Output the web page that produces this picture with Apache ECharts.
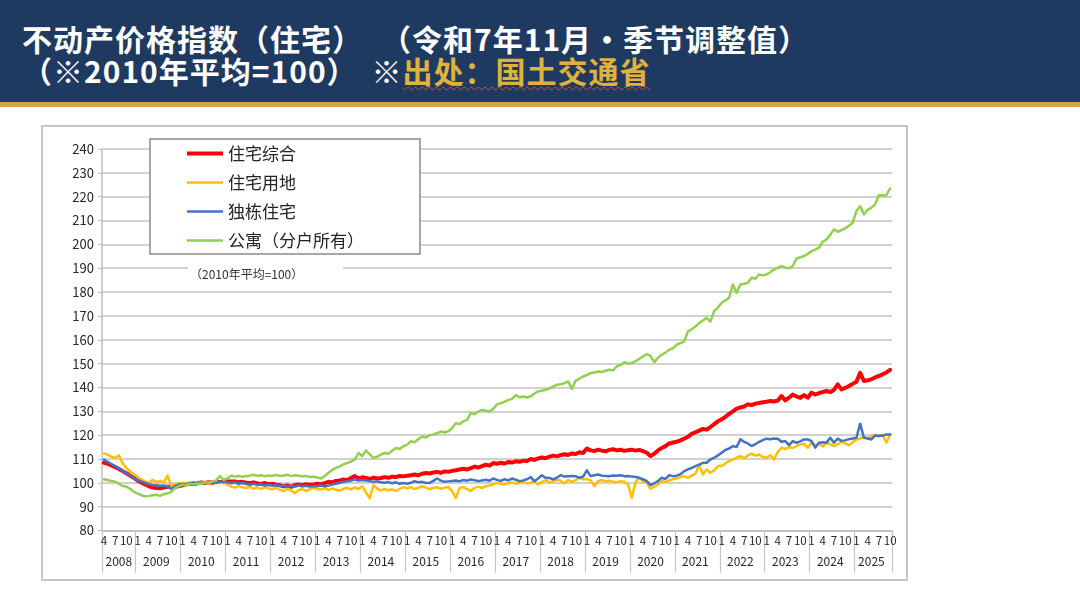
<!DOCTYPE html>
<html>
<head>
<meta charset="utf-8">
<script src="https://cdn.jsdelivr.net/npm/echarts@6.0.0/dist/echarts.min.js"></script>
<style>
  html, body { margin: 0; padding: 0; background: #fff; }
  body { width: 1080px; height: 601px; position: relative; overflow: hidden; font-family: "Noto Sans CJK SC", sans-serif; }
  .header { position: absolute; left: 0; top: 0; width: 1080px; height: 102px; background: #1f3a60; border-bottom: 5px solid #cba64b; }
  .title { position: absolute; left: 22px; color: #fff; font-weight: bold; font-size: 30px; line-height: 36px; letter-spacing: 1px; white-space: nowrap; }
  .t1 { top: 20px; }
  .t2 { top: 52px; }
  .gap1 { display: inline-block; width: 18px; }
  .gap2 { display: inline-block; width: 14px; }
  .src { color: #e0b13c; text-decoration: underline wavy #d8434d; text-decoration-thickness: 1px; text-underline-offset: 3px; }
  #chart { position: absolute; left: 41px; top: 125px; width: 867px; height: 456px; border: 2px solid #c6c6c6; box-sizing: border-box; }
</style>
</head>
<body>
<div class="header">
  <div class="title t1">不动产价格指数（住宅）<span class="gap1"></span>（令和7年11月•季节调整值）</div>
  <div class="title t2">（※2010年平均=100）<span class="gap2"></span>※<span class="src">出处：国土交通省</span></div>
</div>
<div id="chart"></div>
<script>
// monthly data, 2008-04 .. 2025-10 (one line per calendar year)
const startYear = 2008, startMonth = 4, endYear = 2025, endMonth = 10;
const monthLabels = [1, 4, 7, 10];
const seriesNames = ['住宅综合', '住宅用地', '独栋住宅', '公寓（分户所有）'];
const seriesColors = ['#ff0000', '#ffc000', '#4472c4', '#92d050'];

// 住宅综合
const totalIndex = [
  108.4, 108.0, 107.3, 106.6, 105.8, 104.9, 104.0, 103.0, 102.1,
  101.0, 100.1, 99.3, 98.6, 98.0, 97.8, 97.7, 98.0, 98.3, 98.4, 98.2, 98.6,
  99.0, 99.4, 99.6, 99.5, 99.8, 100.1, 99.9, 100.2, 100.0, 100.4, 100.3, 100.6,
  100.7, 100.5, 100.6, 100.2, 100.4, 100.0, 99.8, 100.2, 99.7, 99.5, 99.9, 99.4,
  99.6, 99.2, 99.0, 98.5, 98.9, 98.3, 99.0, 99.3, 98.9, 99.4, 99.2, 99.3,
  99.6, 99.4, 99.9, 100.4, 100.2, 100.8, 101.0, 101.4, 101.2, 102.0, 102.8, 101.9,
  102.3, 102.0, 101.6, 102.2, 101.8, 102.0, 102.4, 102.1, 102.6, 102.4, 102.9, 102.7,
  103.0, 103.2, 103.5, 103.2, 103.8, 104.1, 103.9, 104.3, 104.6, 104.2, 104.8, 104.6,
  105.0, 105.3, 105.6, 105.9, 105.6, 106.2, 106.8, 106.4, 107.0, 107.6, 107.2, 108.3,
  108.0, 108.4, 108.1, 108.7, 108.5, 109.0, 108.8, 109.3, 109.1, 110.0, 109.6, 110.2,
  110.6, 110.3, 111.0, 111.4, 111.1, 111.6, 112.0, 111.7, 112.3, 112.1, 112.8, 112.5,
  114.4, 113.6, 113.3, 113.9, 113.5, 113.2, 113.8, 114.1, 113.6, 113.9, 113.4, 113.7,
  113.9, 113.5, 113.8, 113.3, 112.6, 111.2, 112.2, 113.6, 114.6, 115.4, 116.5, 116.9,
  117.2, 117.8, 118.5, 119.3, 120.5, 121.2, 121.9, 122.6, 122.3, 123.4, 124.6, 125.8,
  126.6, 127.7, 128.9, 130.0, 131.1, 131.6, 132.0, 132.9, 132.6, 133.2, 133.5, 133.8,
  134.0, 134.3, 134.1, 134.5, 136.4, 134.6, 135.7, 137.0, 136.2, 135.6, 136.8, 135.7,
  137.8, 137.0, 137.6, 138.1, 138.5, 138.0, 139.0, 141.3, 139.2, 139.8, 140.6, 141.5,
  142.4, 146.1, 142.7, 143.0, 143.4, 144.2, 144.8, 145.5, 146.3, 147.4
];

// 住宅用地
const landIndex = [
  112.3, 111.8, 111.0, 110.4, 111.5, 108.2, 106.3, 104.8, 103.6,
  102.4, 101.4, 100.6, 100.0, 101.2, 100.4, 100.8, 100.2, 103.0, 98.6, 99.3, 99.8,
  99.6, 100.0, 99.7, 100.2, 99.8, 100.3, 100.0, 99.7, 100.4, 100.1, 99.8, 100.3,
  99.2, 98.4, 98.0, 98.6, 98.1, 97.8, 98.3, 97.6, 98.0, 97.4, 98.2, 97.6,
  97.3, 97.9, 97.0, 96.5, 97.6, 96.8, 95.6, 96.9, 97.4, 96.6, 97.3, 97.9,
  97.4, 97.2, 97.8, 97.0, 97.6, 97.1, 96.8, 97.5, 97.9, 97.2, 98.1, 97.4,
  98.6, 96.0, 93.5, 99.0, 97.6, 96.8, 97.4, 96.9, 97.2, 96.6, 97.5, 98.2,
  97.7, 98.2, 97.4, 97.9, 98.6, 98.0, 97.3, 97.8, 98.1, 97.5, 97.9, 98.3,
  96.5, 93.6, 97.8, 98.2, 97.4, 96.6, 97.9, 98.4, 97.8, 98.6, 98.9, 99.4,
  100.0, 99.5, 99.3, 99.8, 100.2, 99.6, 99.9, 100.3, 99.8, 100.0, 100.7, 99.3,
  100.4, 101.0, 100.2, 100.6, 101.4, 100.9, 99.7, 101.2, 100.4, 101.1, 102.1, 101.5,
  101.6, 101.0, 98.6, 100.7, 101.2, 100.6, 100.9, 100.5, 100.2, 100.7, 100.4, 99.3,
  93.7, 100.2, 102.1, 100.6, 100.0, 97.5, 98.4, 99.3, 100.7, 100.3, 101.0, 101.5,
  101.8, 102.4, 102.8, 102.1, 103.0, 103.8, 107.5, 103.5, 105.6, 104.2, 105.2, 107.0,
  107.0, 108.2, 109.1, 109.8, 110.6, 111.2, 110.3, 111.5, 112.2, 111.4, 111.9, 110.8,
  110.5, 111.6, 109.8, 113.0, 114.7, 114.2, 115.0, 114.6, 115.4, 116.1, 116.4, 114.7,
  116.8, 115.8, 116.4, 115.2, 116.8, 116.2, 115.4, 116.1, 117.2, 116.5, 115.8, 117.0,
  118.2, 118.6, 119.2, 118.8, 119.5, 119.9, 119.5, 120.1, 116.8, 120.3
];

// 独栋住宅
const houseIndex = [
  109.7, 108.8, 107.9, 107.0, 106.0, 105.0, 104.0, 103.0, 102.0,
  101.1, 100.6, 100.0, 99.4, 99.1, 99.0, 98.8, 98.9, 98.6, 97.4, 98.6, 99.2,
  99.5, 99.3, 99.8, 100.0, 99.6, 100.1, 99.8, 100.2, 100.4, 100.0, 100.5, 100.3,
  100.2, 99.8, 100.1, 99.6, 99.9, 99.5, 99.2, 99.6, 99.1, 99.4, 98.9, 99.2,
  98.8, 99.1, 98.6, 98.9, 98.3, 98.7, 98.4, 98.9, 98.5, 98.8, 98.4, 98.6,
  98.6, 98.9, 98.6, 98.8, 99.3, 99.6, 100.0, 100.3, 100.7, 100.9, 101.4, 101.0,
  101.2, 101.0, 100.7, 100.4, 100.6, 100.2, 100.0, 100.3, 99.8, 100.2, 99.6, 99.9,
  99.6, 100.0, 100.7, 100.2, 100.4, 99.9, 100.0, 100.8, 101.8, 100.9, 100.4, 100.6,
  100.8, 101.0, 100.6, 101.2, 100.9, 101.4, 101.1, 100.7, 101.0, 101.3, 100.9, 101.8,
  101.2, 100.8, 101.5, 101.0, 101.8, 101.3, 100.7, 101.0, 101.5, 102.4, 100.7, 101.8,
  103.2, 102.0, 102.1, 101.4, 102.2, 103.2, 102.6, 102.8, 102.9, 102.8, 102.1, 102.6,
  105.2, 102.8, 103.2, 103.5, 103.0, 102.9, 102.8, 103.1, 103.0, 103.2, 102.8, 102.9,
  102.6, 102.4, 102.1, 101.5, 100.7, 99.0, 99.8, 100.7, 102.1, 101.6, 103.2, 102.8,
  103.0, 103.6, 104.9, 105.6, 106.3, 107.0, 107.6, 108.4, 108.4, 109.8, 110.5, 111.5,
  112.6, 113.8, 114.4, 115.4, 115.0, 118.2, 117.2, 116.5, 115.4, 116.2, 117.2, 117.9,
  118.5, 118.3, 118.6, 118.5, 117.2, 117.5, 115.8, 117.5, 116.8, 117.4, 118.2, 118.2,
  117.5, 114.7, 116.8, 117.0, 116.8, 118.9, 116.8, 118.5, 117.6, 117.8, 118.3, 118.6,
  118.9, 124.8, 118.9, 118.6, 118.2, 119.9, 119.6, 119.8, 120.3, 120.3
];

// 公寓（分户所有）
const condoIndex = [
  101.5, 101.2, 100.8, 100.5, 99.6, 98.7, 98.4, 97.5, 96.2,
  95.5, 94.8, 94.4, 94.5, 94.8, 95.0, 94.5, 95.2, 95.6, 96.2, 97.8, 98.6,
  99.2, 99.0, 99.5, 99.4, 99.7, 99.6, 100.0, 100.2, 100.5, 101.0, 102.8, 101.2,
  101.8, 103.0, 102.6, 102.9, 102.5, 102.8, 103.0, 103.4, 102.9, 103.2, 102.8, 103.1,
  103.0, 103.3, 102.9, 103.1, 103.4, 102.8, 103.2, 103.0, 102.7, 102.9, 102.4, 102.6,
  102.2, 101.8, 102.8, 104.2, 105.4, 106.3, 106.9, 107.8, 108.3, 108.9, 109.7, 112.5,
  111.2, 113.5, 112.0, 110.4, 111.0, 111.8, 112.5, 112.2, 113.4, 114.6, 114.2, 115.3,
  116.0, 117.4, 117.0, 118.3, 119.4, 119.0, 120.0, 120.3, 120.8, 121.5, 121.1, 121.6,
  123.0, 125.0, 124.6, 125.8, 126.4, 129.2, 128.8, 129.9, 130.6, 130.2, 129.9, 131.0,
  132.9, 133.4, 134.0, 134.7, 135.2, 136.8, 135.9, 136.2, 135.8, 136.3, 137.4, 138.4,
  138.6, 139.0, 139.6, 140.4, 141.1, 141.3, 141.8, 142.5, 139.4, 142.8, 143.7, 144.6,
  145.2, 146.0, 146.3, 146.7, 146.5, 147.0, 147.4, 147.2, 148.8, 149.4, 150.6, 150.0,
  150.2, 151.0, 152.0, 153.0, 154.0, 153.2, 150.6, 152.4, 153.7, 154.6, 155.8, 156.5,
  157.9, 158.6, 159.3, 163.5, 164.4, 165.6, 167.0, 168.1, 169.2, 167.6, 172.0, 173.5,
  175.5, 176.5, 177.6, 183.2, 179.7, 183.2, 183.5, 183.9, 186.0, 185.6, 187.4, 187.0,
  187.4, 188.3, 189.5, 190.2, 190.9, 190.3, 190.0, 190.9, 194.1, 194.6, 195.1, 196.0,
  197.2, 197.8, 198.6, 201.1, 202.1, 204.0, 206.3, 205.3, 206.0, 206.7, 207.8, 209.1,
  214.0, 216.1, 212.6, 214.5, 215.4, 216.8, 220.7, 220.5, 220.7, 223.5
];

const seriesData = [totalIndex, landIndex, houseIndex, condoIndex];

// category list "YYYY-M"
const categories = [];
for (let y = startYear; y <= endYear; y++) {
  for (let m = 1; m <= 12; m++) {
    if (y === startYear && m < startMonth) continue;
    if (y === endYear && m > endMonth) break;
    categories.push(y + '-' + m);
  }
}

function monthOf(v) { return +String(v).split('-')[1]; }
function yearOf(v) { return +String(v).split('-')[0]; }

// year label goes under the middle month of that year's range
function yearLabelMonth(y) {
  let first = y === startYear ? startMonth : 1;
  let last = y === endYear ? endMonth : 12;
  return Math.floor((first + last) / 2);
}

const font = '"Noto Sans CJK SC", "Noto Sans CJK JP", sans-serif';
const chart = echarts.init(document.getElementById('chart'));

// plain line icons in the legend (thick one for 住宅综合)
const legendData = seriesNames.map(function (name, k) {
  return {
    name: name,
    icon: k === 0 ? 'path://M0,0H36V4H0Z' : 'path://M0,0H36V2.6H0Z',
    itemStyle: { color: seriesColors[k], borderWidth: 0 }
  };
});

const option = {
  animation: false,
  textStyle: { fontFamily: font },
  grid: { left: 59, top: 22, right: 14, bottom: 48.5, containLabel: false, outerBoundsMode: 'none' },
  legend: {
    orient: 'vertical',
    left: 107,
    top: 12,
    data: legendData,
    itemWidth: 36,
    itemHeight: 14,
    itemGap: 12,
    symbolKeepAspect: true,
    padding: [6, 56, 5, 37],
    backgroundColor: '#fff',
    borderColor: '#8a8a8a',
    borderWidth: 1.5,
    selectedMode: false,
    textStyle: { fontSize: 17, color: '#222', fontFamily: font }
  },
  graphic: [{
    type: 'text',
    x: 145,
    y: 147,
    z: 100,
    style: {
      text: '（2010年平均=100）',
      fill: '#333',
      fontSize: 12,
      fontFamily: font,
      verticalAlign: 'middle',
      backgroundColor: '#fff',
      padding: [3, 40, 3, 2]
    }
  }],
  xAxis: [
    {
      type: 'category',
      data: categories,
      boundaryGap: true,
      axisLine: { lineStyle: { color: '#bfbfbf', width: 1.5 } },
      axisTick: {
        show: true,
        length: 42,
        interval: function (i, v) { return i === 0 || monthOf(v) === 1; },
        lineStyle: { color: '#c4c4c4', width: 1.2 }
      },
      axisLabel: {
        interval: function (i, v) { return monthLabels.indexOf(monthOf(v)) >= 0; },
        formatter: function (v) { return String(monthOf(v)); },
        fontSize: 11.5,
        color: '#262626',
        margin: 4
      },
      splitLine: { show: false }
    },
    {
      type: 'category',
      data: categories,
      position: 'bottom',
      offset: 21,
      boundaryGap: true,
      axisLine: { show: false },
      axisTick: { show: false },
      axisLabel: {
        interval: function (i, v) { return monthOf(v) === yearLabelMonth(yearOf(v)); },
        formatter: function (v) { return String(yearOf(v)); },
        fontSize: 12,
        color: '#262626',
        margin: 4
      },
      splitLine: { show: false }
    }
  ],
  yAxis: {
    type: 'value',
    min: 80,
    max: 240,
    interval: 10,
    axisLine: { show: true, lineStyle: { color: '#bfbfbf', width: 1.5 } },
    axisTick: { show: true, length: 4, lineStyle: { color: '#bfbfbf' } },
    axisLabel: { fontSize: 13, color: '#262626', margin: 8 },
    splitLine: { show: true, lineStyle: { color: '#c2c2c2', width: 1.5 } }
  },
  series: seriesNames.map(function (name, k) {
    return {
      name: name,
      type: 'line',
      data: seriesData[k],
      symbol: 'none',
      xAxisIndex: 0,
      lineStyle: { width: k === 0 ? 4 : 2.5, color: seriesColors[k], join: 'round', cap: 'round' },
      itemStyle: { color: seriesColors[k] }
    };
  })
};

chart.setOption(option);
</script>
</body>
</html>
